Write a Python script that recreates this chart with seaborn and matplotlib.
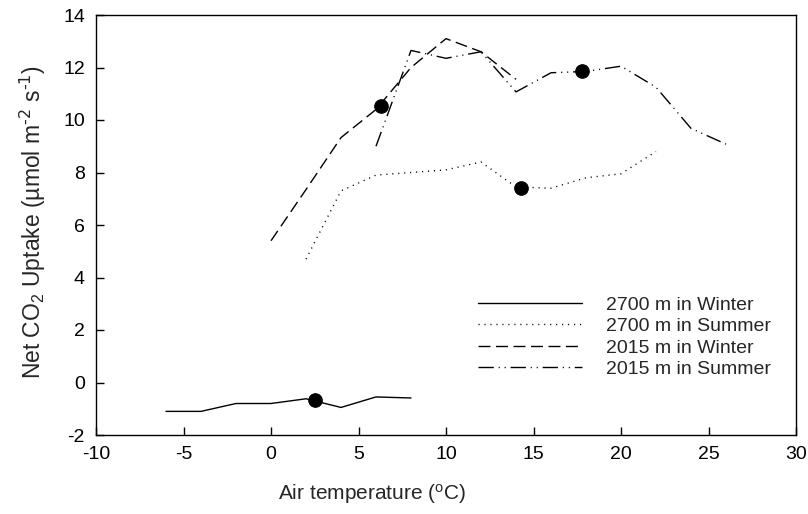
import matplotlib
matplotlib.use("Agg")
import matplotlib.pyplot as plt
import seaborn as sns

# 2700 m, winter
t_2700_win = [-6, -4, -2, 0, 2, 4, 6, 8]
u_2700_win = [-1.1, -1.1, -0.8, -0.8, -0.62, -0.95, -0.55, -0.59]

# 2700 m, summer
t_2700_sum = [2, 4, 6, 8, 10, 12, 14, 16, 18, 20, 22]
u_2700_sum = [4.7, 7.3, 7.9, 8.0, 8.1, 8.4, 7.45, 7.4, 7.8, 7.95, 8.8]

# 2015 m, winter
t_2015_win = [0, 2, 4, 6, 8, 10, 12, 14]
u_2015_win = [5.4, 7.35, 9.33, 10.4, 12.0, 13.1, 12.6, 11.55]

# 2015 m, summer
t_2015_sum = [6, 8, 10, 12, 14, 16, 18, 20, 22, 24, 26]
u_2015_sum = [9.0, 12.65, 12.35, 12.6, 11.07, 11.8, 11.85, 12.05, 11.25, 9.68, 9.08]

# mean points (big black dots)
mean_t = [2.5, 14.3, 6.3, 17.75]
mean_u = [-0.65, 7.42, 10.55, 11.85]

labels = ["2700 m in Winter", "2700 m in Summer", "2015 m in Winter", "2015 m in Summer"]

sns.set_theme(style="white")
plt.rcParams["font.family"] = ["Liberation Sans", "DejaVu Sans"]
plt.rcParams["mathtext.default"] = "regular"
plt.rcParams["axes.unicode_minus"] = False

fig = plt.figure(figsize=(8.08, 5.14), dpi=100)
ax = fig.add_axes([96 / 808, 1 - 435 / 514, 700 / 808, 420 / 514])

styles = ["-", (0, (0.8, 3.5)), (0, (8.6, 4)), (0, (11, 3.5, 0.8, 3.5, 0.8, 3.5))]
series = [(t_2700_win, u_2700_win), (t_2700_sum, u_2700_sum),
          (t_2015_win, u_2015_win), (t_2015_sum, u_2015_sum)]
for (t, u), ls, lab in zip(series, styles, labels):
    sns.lineplot(x=t, y=u, ax=ax, color="black", linewidth=1.0,
                 linestyle=ls, label=lab)

sns.scatterplot(x=mean_t, y=mean_u, ax=ax, color="black", s=95,
                edgecolor="black", zorder=5, legend=False)

ax.set_xlim(-10, 30)
ax.set_ylim(-2, 14)
ax.set_xticks(range(-10, 31, 5))
ax.set_yticks(range(-2, 15, 2))
ax.tick_params(direction="in", length=6, width=1, labelsize=14,
               left=True, bottom=True, top=False, right=False, colors="black")
ax.tick_params(axis="x", pad=8)
ax.tick_params(axis="y", pad=8)
for s in ax.spines.values():
    s.set_visible(True)
    s.set_color("black")
    s.set_linewidth(1.0)

ax.set_xlabel("Air temperature ($^{o}$C)", fontsize=15)
ax.set_ylabel(r"Net CO$_2$ Uptake (µmol m$^{\text{-2}}$ s$^{\text{-1}}$)", fontsize=16.5)
ax.xaxis.set_label_coords((372 - 96) / 700, -(482 - 435) / 420)
ax.yaxis.set_label_coords(-(96 - 48) / 700, (435 - 222) / 420)

ax.legend(loc="upper left", bbox_to_anchor=((478 - 96) / 700, (435 - 296) / 420),
          frameon=False, fontsize=14, handlelength=5.36, handletextpad=1.2,
          labelspacing=0.2, borderpad=0, borderaxespad=0)

fig.savefig("out.png", dpi=100)
